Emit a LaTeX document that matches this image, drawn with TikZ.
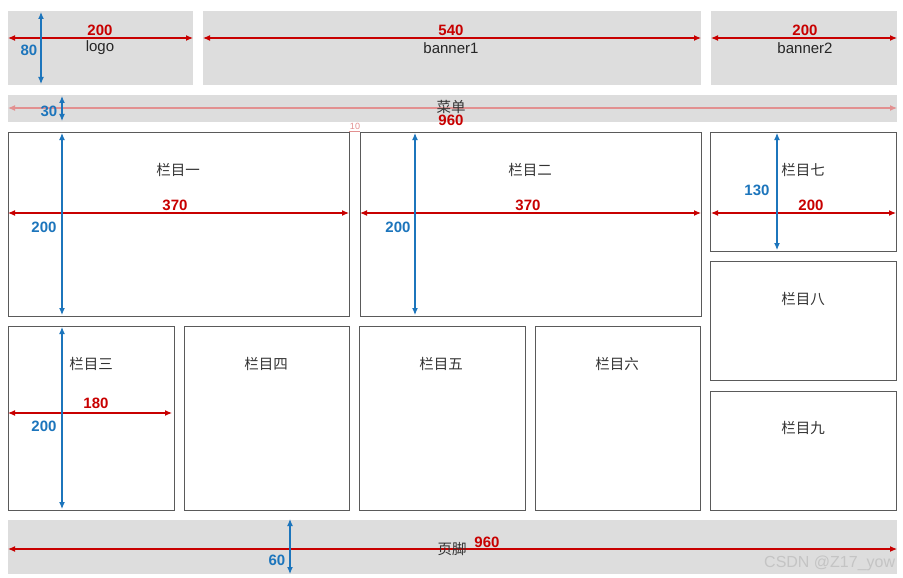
\documentclass[tikz,border=0pt]{standalone}
\usepackage{fontspec}
\setmainfont{Liberation Sans}
\newfontfamily\cjk{Noto Sans CJK SC}
\usetikzlibrary{arrows.meta}
\definecolor{boxgray}{HTML}{DDDDDD}
\definecolor{dimred}{HTML}{C80000}
\definecolor{fadered}{HTML}{E29090}
\definecolor{dimblue}{HTML}{1C75BC}
\definecolor{edgegray}{HTML}{5A5A5A}
\definecolor{wmgray}{HTML}{C4C4C4}
\begin{document}
\begin{tikzpicture}[x=1pt,y=-1pt,
  graybox/.style={fill=boxgray,draw=none,inner sep=0pt,anchor=north west},
  whitebox/.style={fill=white,draw=edgegray,line width=1pt,inner sep=0pt,anchor=north west},
  lbl/.style={font=\fontsize{15}{15}\selectfont,text=black!85,inner sep=0pt},
  cn/.style={font=\cjk\fontsize{14.5}{15}\selectfont,text=black!80,inner sep=0pt},
  rnum/.style={font=\fontsize{15}{15}\selectfont\bfseries,text=dimred,inner sep=0pt},
  bnum/.style={font=\fontsize{15}{15}\selectfont\bfseries,text=dimblue,inner sep=0pt},
  tip/.style={{Latex[length=7pt,width=6pt]}-{Latex[length=7pt,width=6pt]}},
  rdim/.style={draw=dimred,line width=1.1pt,tip},
  fdim/.style={draw=fadered,line width=1.1pt,tip},
  bdim/.style={draw=dimblue,line width=1.1pt,tip}
]
\useasboundingbox (0,0) rectangle (903,578);
\fill[white] (0,0) rectangle (903,578);

% top row
\node[graybox,minimum width=185pt,minimum height=74pt] (logo) at (8,11) {};
\node[graybox,minimum width=498pt,minimum height=74pt] (ban1) at (203,11) {};
\node[graybox,minimum width=186pt,minimum height=74pt] (ban2) at (711,11) {};
% menu
\node[graybox,minimum width=889pt,minimum height=27pt] (menu) at (8,95) {};
% row 1
\node[whitebox,minimum width=341pt,minimum height=184pt] (c1) at (8,132) {};
\node[whitebox,minimum width=341pt,minimum height=184pt] (c2) at (360,132) {};
\node[whitebox,minimum width=186pt,minimum height=119pt] (c7) at (710,132) {};
\node[whitebox,minimum width=186pt,minimum height=119pt] (c8) at (710,261) {};
\node[whitebox,minimum width=186pt,minimum height=119pt] (c9) at (710,391) {};
% row 2
\node[whitebox,minimum width=166pt,minimum height=184pt] (c3) at (8,326) {};
\node[whitebox,minimum width=165pt,minimum height=184pt] (c4) at (184,326) {};
\node[whitebox,minimum width=166pt,minimum height=184pt] (c5) at (359,326) {};
\node[whitebox,minimum width=165pt,minimum height=184pt] (c6) at (535,326) {};
% footer
\node[graybox,minimum width=889pt,minimum height=54pt] (foot) at (8,520) {};

% coordinates for dimension lines
\coordinate (lgL) at (8,38);   \coordinate (lgR) at (193,38);
\coordinate (lgT) at (41,12);  \coordinate (lgB) at (41,84);
\coordinate (b1L) at (203,38); \coordinate (b1R) at (701,38);
\coordinate (b2L) at (711,38); \coordinate (b2R) at (897,38);
\coordinate (mnL) at (8,108);  \coordinate (mnR) at (897,108);
\coordinate (mnT) at (62,96);  \coordinate (mnB) at (62,121);
\coordinate (c1L) at (8,213);  \coordinate (c1R) at (349,213);
\coordinate (c1T) at (62,133); \coordinate (c1B) at (62,315);
\coordinate (c2L) at (360,213);\coordinate (c2R) at (701,213);
\coordinate (c2T) at (415,133);\coordinate (c2B) at (415,315);
\coordinate (c7L) at (711,213);\coordinate (c7R) at (896,213);
\coordinate (c7T) at (777,133);\coordinate (c7B) at (777,250);
\coordinate (c3L) at (8,413);  \coordinate (c3R) at (172,413);
\coordinate (c3T) at (62,327); \coordinate (c3B) at (62,509);
\coordinate (ftL) at (8,549);  \coordinate (ftR) at (897,549);
\coordinate (ftT) at (290,519);\coordinate (ftB) at (290,574);
\coordinate (gapA) at (349,131); \coordinate (gapB) at (360,131);

% dimension lines
\draw[rdim] (lgL) -- (lgR);
\draw[bdim] (lgT) -- (lgB);
\draw[rdim] (b1L) -- (b1R);
\draw[rdim] (b2L) -- (b2R);
\draw[fdim] (mnL) -- (mnR);
\draw[bdim] (mnT) -- (mnB);
\draw[rdim] (c1L) -- (c1R);
\draw[bdim] (c1T) -- (c1B);
\draw[rdim] (c2L) -- (c2R);
\draw[bdim] (c2T) -- (c2B);
\draw[rdim] (c7L) -- (c7R);
\draw[bdim] (c7T) -- (c7B);
\draw[rdim] (c3L) -- (c3R);
\draw[bdim] (c3T) -- (c3B);
\draw[rdim] (ftL) -- (ftR);
\draw[bdim] (ftT) -- (ftB);
\draw[fadered,line width=0.6pt] (gapA) -- (gapB);

% labels
\node[rnum] (n200a) at (100,30) {200};
\node[lbl] (tlogo) at (100,48) {logo};
\node[bnum] (n80) at (29,50) {80};
\node[rnum] (n540) at (451,30) {540};
\node[lbl] (tban1) at (451,48) {banner1};
\node[rnum] (n200b) at (805,30) {200};
\node[lbl] (tban2) at (805,48) {banner2};

\node[cn] (tmenu) at (451,107) {菜单};
\node[rnum] (n960a) at (451,120) {960};
\node[bnum] (n30) at (49,111) {30};
\node[font=\fontsize{9}{9}\selectfont,text=fadered,inner sep=0pt] (n10) at (355,126) {10};

\node[cn] (t1) at (178,170) {栏目一};
\node[rnum] (n370a) at (175,205) {370};
\node[bnum] (n200c) at (44,227) {200};

\node[cn] (t2) at (530,170) {栏目二};
\node[rnum] (n370b) at (528,205) {370};
\node[bnum] (n200d) at (398,227) {200};

\node[cn] (t7) at (803,170) {栏目七};
\node[rnum] (n200e) at (811,205) {200};
\node[bnum] (n130) at (757,190) {130};
\node[cn] (t8) at (803,299) {栏目八};
\node[cn] (t9) at (803,428) {栏目九};

\node[cn] (t3) at (91,364) {栏目三};
\node[rnum] (n180) at (96,403) {180};
\node[bnum] (n200f) at (44,426) {200};
\node[cn] (t4) at (266,364) {栏目四};
\node[cn] (t5) at (441,364) {栏目五};
\node[cn] (t6) at (617,364) {栏目六};

\node[cn] (tfoot) at (452,549) {页脚};
\node[rnum] (n960b) at (487,542) {960};
\node[bnum] (n60) at (277,560) {60};

\node[font=\fontsize{16}{16}\selectfont,text=wmgray,inner sep=0pt,anchor=west] (wm) at (764,563) {CSDN @Z17\_yow};
\end{tikzpicture}
\end{document}
